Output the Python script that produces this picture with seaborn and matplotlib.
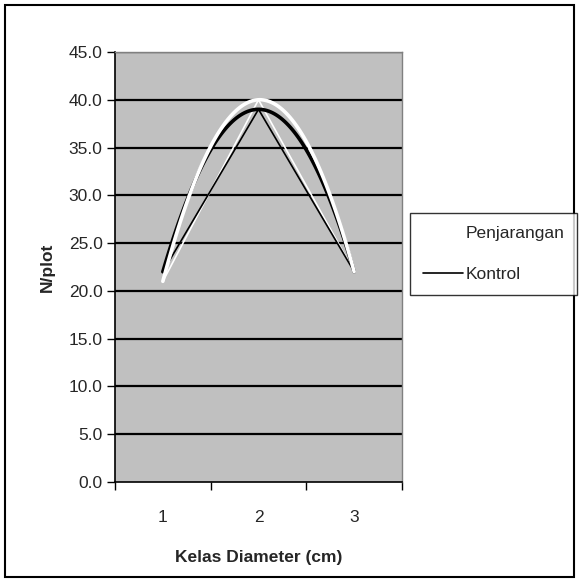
import matplotlib
matplotlib.use("Agg")
import matplotlib.pyplot as plt
import seaborn as sns
import numpy as np
import pandas as pd
from matplotlib.patches import Rectangle
from matplotlib.lines import Line2D
from matplotlib.ticker import FixedLocator, FormatStrFormatter, NullFormatter

kelas = [1, 2, 3]
penjarangan = [21.0, 40.0, 22.0]
kontrol = [22.0, 39.0, 22.0]
series_names = ["Penjarangan", "Kontrol"]
y_ticks = [0, 5, 10, 15, 20, 25, 30, 35, 40, 45]

sns.set_style("white")
plt.rcParams['font.family'] = ['Liberation Sans', 'DejaVu Sans']

df = pd.DataFrame({
    "Kelas": kelas * 2,
    "N": penjarangan + kontrol,
    "Seri": [series_names[0]] * 3 + [series_names[1]] * 3,
})

fig = plt.figure(figsize=(5.79, 5.80), dpi=100)
ax = fig.add_axes([115/579, 98/580, 287/579, 430/580])
ax.set_facecolor("#C0C0C0")

# gridlines
for yv in y_ticks[1:]:
    ax.axhline(yv, color="black", lw=1.6, zorder=1)

# straight lines
sns.lineplot(data=df, x="Kelas", y="N", hue="Seri",
             palette={"Penjarangan": "white", "Kontrol": "black"},
             ax=ax, legend=False, zorder=3, linewidth=1.2)

# quadratic trend curves
sns.regplot(x=kelas, y=kontrol, order=2, ci=None, scatter=False, truncate=True,
            ax=ax, line_kws=dict(color="black", lw=2.6, zorder=4))
sns.regplot(x=kelas, y=penjarangan, order=2, ci=None, scatter=False, truncate=True,
            ax=ax, line_kws=dict(color="white", lw=2.6, zorder=5))

ax.set_xlim(0.5, 3.5)
ax.set_ylim(0, 45)
ax.yaxis.set_major_locator(FixedLocator(y_ticks))
ax.yaxis.set_major_formatter(FormatStrFormatter("%.1f"))
ax.xaxis.set_major_locator(FixedLocator([0.5, 1.5, 2.5, 3.5]))
ax.xaxis.set_major_formatter(NullFormatter())
ax.xaxis.set_minor_locator(FixedLocator(kelas))
ax.set_xticklabels([str(k) for k in kelas], minor=True)
ax.tick_params(axis="x", which="major", direction="out", length=6, width=1, color="black", bottom=True)
ax.tick_params(axis="x", which="minor", length=0, labelsize=12.5, pad=20)
ax.tick_params(axis="y", which="major", direction="out", length=6, width=1, color="black", left=True, labelsize=12.5, pad=3)

for s in ["left", "bottom"]:
    ax.spines[s].set_color("black")
    ax.spines[s].set_linewidth(1.2)
for s in ["top", "right"]:
    ax.spines[s].set_color("#808080")
    ax.spines[s].set_linewidth(1.0)

ax.set_xlabel("Kelas Diameter (cm)", fontsize=12.5, fontweight="bold", labelpad=18)
ax.set_ylabel("N/plot", fontsize=12.5, fontweight="bold", labelpad=10)

handles = [Line2D([], [], color="white", lw=1.2), Line2D([], [], color="black", lw=1.2)]
leg = fig.legend(handles, series_names, loc="upper left",
                 bbox_to_anchor=(410/579, 1 - 213/580), borderaxespad=0,
                 frameon=True, fancybox=False,
                 edgecolor="black", fontsize=12.5, handlelength=2.3, labelspacing=1.5,
                 borderpad=0.75, handletextpad=0.15)
leg.get_frame().set_linewidth(1.0)

fig.patches.append(Rectangle((5/579, 3/580), 569/579, 572/580, transform=fig.transFigure,
                             fill=False, edgecolor="black", lw=1.5))

fig.savefig("out.png", dpi=100, facecolor="white")
